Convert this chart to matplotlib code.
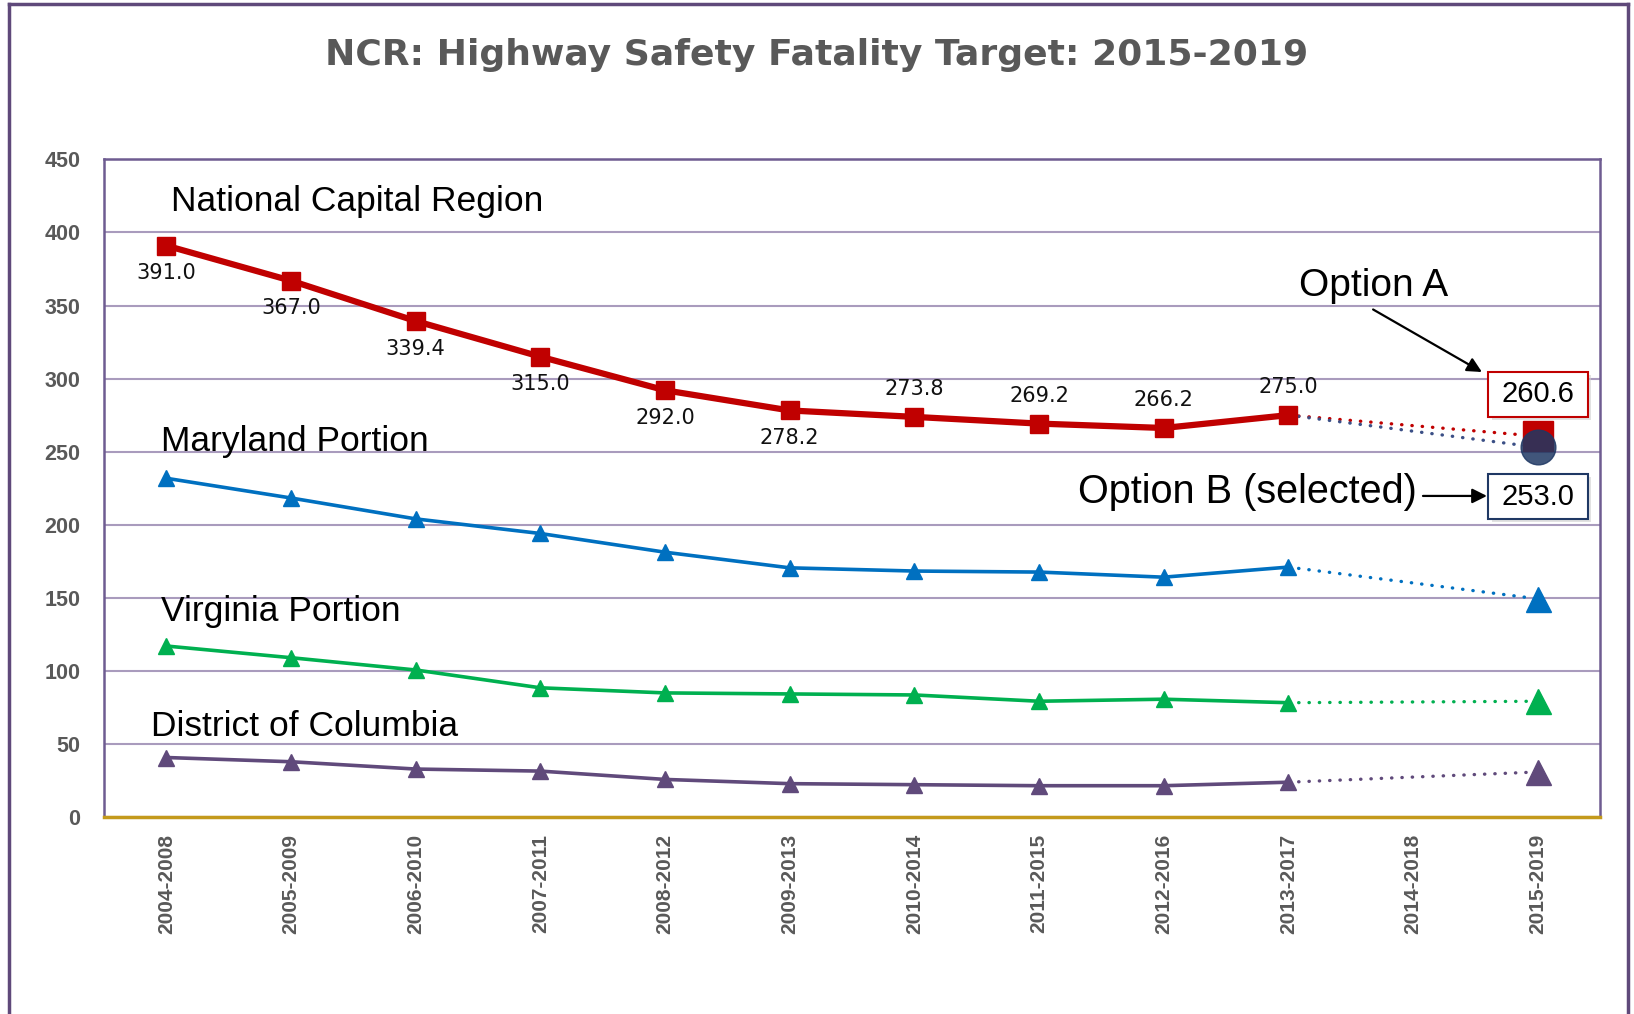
import numpy as np
import matplotlib.pyplot as plt
from matplotlib.lines import Line2D
from matplotlib.patches import Rectangle

# Данные (пятилетние скользящие средние)
periods = ['2004-2008', '2005-2009', '2006-2010', '2007-2011', '2008-2012', '2009-2013',
           '2010-2014', '2011-2015', '2012-2016', '2013-2017', '2014-2018', '2015-2019']
ncr = [391.0, 367.0, 339.4, 315.0, 292.0, 278.2, 273.8, 269.2, 266.2, 275.0, np.nan, np.nan]
ncr_option_a = 260.6
ncr_option_b = 253.0
maryland = [231.8, 218.3, 204.0, 194.0, 181.2, 170.5, 168.3, 167.6, 164.1, 171.0, np.nan, 149.3]
virginia = [117.0, 109.0, 100.6, 88.4, 84.9, 84.2, 83.5, 79.2, 80.6, 78.2, np.nan, 79.2]
dc = [40.7, 37.8, 32.8, 31.4, 25.7, 22.8, 22.1, 21.4, 21.4, 23.8, np.nan, 30.8]

red = '#C00000'
blue = '#0070C0'
green = '#00B050'
purple = '#604A7B'
navy = '#1F3864'
grey = '#595959'

plt.rcParams['font.family'] = ['Liberation Sans', 'DejaVu Sans']

x = np.arange(len(periods))
last = 9     # 2013-2017, последний фактический
target = 11  # 2015-2019, целевой

fig = plt.figure(figsize=(16.34, 10.14), dpi=100)
ax = fig.add_axes([0.0636, 0.1943, 0.9156, 0.6485])

dots = dict(linestyle=(0, (0.1, 3)), dash_capstyle='round', lw=2.4)

# Национальный столичный регион
ax.plot(x[:last + 1], ncr[:last + 1], color=red, lw=4.5, marker='s', ms=13, zorder=6)
ax.plot([x[last], x[target]], [ncr[last], ncr_option_a], color=red, zorder=5, **dots)
ax.plot([x[last], x[target]], [ncr[last], ncr_option_b], color='#3B4F86', zorder=5, **dots)
ax.plot(x[target], ncr_option_a, 's', ms=22, color=red, zorder=6)
ax.plot(x[target], ncr_option_b, 'o', ms=25, color=navy, alpha=0.85, zorder=7)

# Штаты и округ
for vals, col in [(maryland, blue), (virginia, green), (dc, purple)]:
    ax.plot(x[:last + 1], vals[:last + 1], color=col, lw=2.6, marker='^', ms=12, zorder=4)
    ax.plot([x[last], x[target]], [vals[last], vals[target]], color=col, zorder=3, **dots)
    ax.plot(x[target], vals[target], '^', ms=18, color=col, zorder=4)

# Подписи значений
for i in range(last + 1):
    off = -20 if i < 6 else 20
    ax.annotate(f'{ncr[i]:.1f}', (x[i], ncr[i]), xytext=(0, off), textcoords='offset points',
                ha='center', va='center', fontsize=15, family='DejaVu Sans', color='#111111')

# Названия рядов
lab = dict(fontsize=25.5, color='black', va='center')
ax.text(0.04, 421, 'National Capital Region', **lab)
ax.text(-0.04, 257, 'Maryland Portion', **lab)
ax.text(-0.04, 140.5, 'Virginia Portion', **lab)
ax.text(-0.12, 62, 'District of Columbia', **lab)

# Варианты целей
arrow = dict(arrowstyle='-|>', color='black', lw=1.6, mutation_scale=22, shrinkA=0, shrinkB=0)
ax.text(9.68, 363.7, 'Option A', ha='center', va='center', fontsize=28)
ax.annotate('', xy=(10.553, 304.5), xytext=(9.68, 347.3), arrowprops=arrow)
ax.text(10.03, 222.4, 'Option B (selected)', ha='right', va='center', fontsize=28.5)
ax.annotate('', xy=(10.593, 219.7), xytext=(10.08, 219.7), arrowprops=arrow)

for (y0, y1), col, val in [((273.9, 304.7), red, ncr_option_a), ((203.7, 234.7), navy, ncr_option_b)]:
    ax.add_patch(Rectangle((10.63, y0 - 2), 0.8, y1 - y0, facecolor='#D0D0D0', edgecolor='none',
                           clip_on=False, zorder=7, alpha=0.6))
    ax.add_patch(Rectangle((10.6, y0), 0.8, y1 - y0, facecolor='white', edgecolor=col, lw=1.5,
                           clip_on=False, zorder=8))
    ax.text(11.0, (y0 + y1) / 2, f'{val:.1f}', ha='center', va='center', fontsize=21, zorder=9)

# Оси
ax.set_xlim(-0.5, 11.5)
ax.set_ylim(0, 450)
ax.set_yticks(range(0, 451, 50))
ax.set_yticklabels([str(v) for v in range(0, 451, 50)], fontweight='bold', fontsize=15.5, color=grey)
ax.set_xticks(x)
ax.set_xticklabels(periods, rotation=90, fontweight='bold', fontsize=15, color=grey)
ax.tick_params(axis='y', length=0, pad=17)
ax.tick_params(axis='x', length=0, pad=12)
ax.yaxis.grid(True, color='#A99BBD', lw=1.5)
ax.set_axisbelow(True)
for s in ['left', 'right', 'top']:
    ax.spines[s].set_color('#6E5C91')
    ax.spines[s].set_linewidth(1.8)
ax.spines['bottom'].set_color('#C49A1C')
ax.spines['bottom'].set_linewidth(2.5)

fig.text(0.5, 1 - 55 / 1014, 'NCR: Highway Safety Fatality Target: 2015-2019', ha='center', va='center',
         fontsize=26, fontweight='bold', family='DejaVu Sans', color=grey)

# Рамка
border = '#5F497A'
fig.add_artist(Line2D([9 / 1634, 9 / 1634], [0, 1 - 4 / 1014], transform=fig.transFigure, color=border, lw=2.5))
fig.add_artist(Line2D([9 / 1634, 1628 / 1634], [1 - 4 / 1014, 1 - 4 / 1014], transform=fig.transFigure, color=border, lw=2.5))
fig.add_artist(Line2D([1628 / 1634, 1628 / 1634], [0, 1 - 4 / 1014], transform=fig.transFigure, color=border, lw=2.5))

fig.savefig('out.png', dpi=100)
